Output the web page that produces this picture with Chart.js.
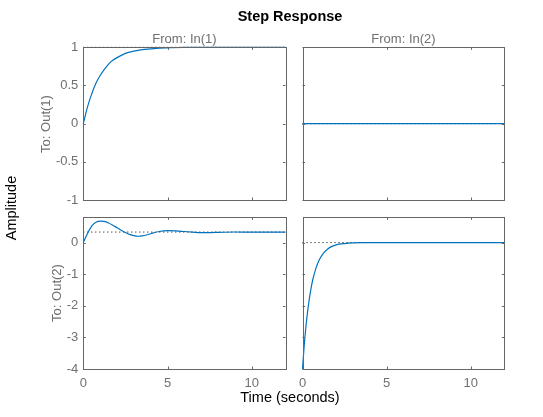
<!DOCTYPE html>
<html>
<head>
<meta charset="utf-8">
<script src="https://cdn.jsdelivr.net/npm/chart.js@4"></script>
<style>
  html, body { margin: 0; padding: 0; background: #fff; }
  #fig { position: relative; width: 543px; height: 417px; overflow: hidden; font-family: 'Liberation Sans', Arial, sans-serif; }
  #fig canvas { position: absolute; left: 0; top: 0; }
  .lbl { position: absolute; white-space: nowrap; transform: translate(-50%, -50%); line-height: 1; }
  .rot { transform: translate(-50%, -50%) rotate(-90deg); }
  .gray { color: #707070; font-size: 13px; }
  .big { color: #000; font-size: 14.5px; }
</style>
</head>
<body>
<div id="fig">
  <canvas id="c11" width="543" height="417"></canvas>
  <canvas id="c12" width="543" height="417"></canvas>
  <canvas id="c21" width="543" height="417"></canvas>
  <canvas id="c22" width="543" height="417"></canvas>
  <div class="lbl big" style="left:290px; top:15.5px; font-weight:bold;">Step Response</div>
  <div class="lbl gray" style="left:184.5px; top:37.5px;">From: In(1)</div>
  <div class="lbl gray" style="left:403.5px; top:37.5px;">From: In(2)</div>
  <div class="lbl gray rot" style="left:44.5px; top:123.6px;">To: Out(1)</div>
  <div class="lbl gray rot" style="left:56px; top:293px;">To: Out(2)</div>
  <div class="lbl big rot" style="left:11px; top:208px;">Amplitude</div>
  <div class="lbl big" style="left:290px; top:396.5px;">Time (seconds)</div>
</div>
<script>
// step response samples
var t11 = [0, 0.25, 0.5, 0.75, 1, 1.25, 1.5, 1.75, 2, 2.5, 3, 3.5, 4, 4.5, 5, 6, 7, 8, 10, 12];
var y11 = [0, 0.22, 0.39, 0.53, 0.63, 0.71, 0.78, 0.83, 0.865, 0.92, 0.95, 0.97, 0.98, 0.99, 0.993, 0.998, 1, 1, 1, 1];

var t12 = [0, 12];
var y12 = [0, 0];

var t21 = [0, 0.25, 0.5, 0.75, 1, 1.25, 1.5, 1.75, 2, 2.25, 2.5, 2.75, 3, 3.25, 3.5, 3.75, 4, 4.5, 5, 5.5, 6, 6.5, 7, 7.5, 8, 9, 10, 12];
var y21 = [0, 0.29, 0.52, 0.64, 0.68, 0.67, 0.62, 0.55, 0.47, 0.39, 0.32, 0.26, 0.22, 0.2, 0.21, 0.24, 0.28, 0.35, 0.38, 0.37, 0.35, 0.33, 0.315, 0.315, 0.325, 0.335, 0.333, 0.333];

var t22 = [0, 0.1, 0.2, 0.3, 0.4, 0.5, 0.6, 0.8, 1, 1.25, 1.5, 1.75, 2, 2.5, 3, 3.5, 4, 5, 6, 8, 12];
var y22 = [-4, -3.27, -2.68, -2.2, -1.8, -1.47, -1.2, -0.81, -0.54, -0.33, -0.2, -0.12, -0.07, -0.03, -0.01, 0, 0, 0, 0, 0, 0];

// steady-state values (dotted lines)
var final11 = 1, final12 = 0, final21 = 0.333, final22 = 0;

var xTicks = [0, 5, 10];
var yTicksTop = [-1, -0.5, 0, 0.5, 1];
var yTicksBottom = [-4, -3, -2, -1, 0];

var lineBlue = '#0072BD';
var axisColor = '#666666';
var labelColor = '#707070';

// box and inward tick marks like MATLAB axes
var boxPlugin = {
    id: 'matlabBox',
    afterDatasetsDraw: function(chart) {
        var ctx = chart.ctx, a = chart.chartArea;
        var x = chart.scales.x, y = chart.scales.y;
        var len = 2.5;
        ctx.save();
        ctx.strokeStyle = axisColor;
        ctx.lineWidth = 1;
        ctx.beginPath();
        x.ticks.forEach(function(tk) {
            var px = Math.round(x.getPixelForValue(tk.value)) + 0.5;
            ctx.moveTo(px, a.bottom); ctx.lineTo(px, a.bottom - len);
            ctx.moveTo(px, a.top); ctx.lineTo(px, a.top + len);
        });
        y.ticks.forEach(function(tk) {
            var py = Math.round(y.getPixelForValue(tk.value)) + 0.5;
            ctx.moveTo(a.left, py); ctx.lineTo(a.left + len, py);
            ctx.moveTo(a.right, py); ctx.lineTo(a.right - len, py);
        });
        ctx.stroke();
        ctx.strokeRect(Math.round(a.left) + 0.5, Math.round(a.top) + 0.5,
            Math.round(a.right) - Math.round(a.left), Math.round(a.bottom) - Math.round(a.top));
        ctx.restore();
    }
};

function toPoints(xs, ys) {
    return xs.map(function(v, i) { return {x: v, y: ys[i]}; });
}

function makePanel(id, xs, ys, finalVal, box, opts) {
    var yWidth = 50, xHeight = 30;
    new Chart(document.getElementById(id), {
        type: 'line',
        data: {
            datasets: [{
                data: toPoints(xs, ys),
                borderColor: lineBlue,
                borderWidth: 1.2,
                pointRadius: 0,
                cubicInterpolationMode: 'monotone',
                clip: 2,
                fill: false
            }, {
                data: toPoints([0, 12], [finalVal, finalVal]),
                borderColor: '#000',
                borderWidth: 1,
                borderDash: [1, 3],
                pointRadius: 0,
                clip: 2,
                fill: false
            }]
        },
        options: {
            responsive: false,
            animation: false,
            devicePixelRatio: 1,
            layout: {
                padding: {
                    left: box.left - yWidth,
                    top: box.top,
                    right: 543 - box.right,
                    bottom: 417 - box.bottom - xHeight
                }
            },
            plugins: { legend: { display: false }, tooltip: { enabled: false } },
            scales: {
                x: {
                    type: 'linear',
                    min: 0,
                    max: 12,
                    grid: { display: false, drawTicks: false },
                    border: { display: false },
                    afterBuildTicks: function(s) { s.ticks = xTicks.map(function(v) { return {value: v}; }); },
                    afterFit: function(s) { s.height = xHeight; },
                    ticks: {
                        display: opts.xLabels,
                        padding: 7,
                        color: labelColor,
                        font: { family: "'Liberation Sans', Arial, sans-serif", size: 13 },
                        maxRotation: 0,
                        callback: function(v) { return String(v); }
                    }
                },
                y: {
                    type: 'linear',
                    min: opts.yMin,
                    max: opts.yMax,
                    grid: { display: false, drawTicks: false },
                    border: { display: false },
                    afterBuildTicks: function(s) { s.ticks = opts.yTicks.map(function(v) { return {value: v}; }); },
                    afterFit: function(s) { s.width = yWidth; },
                    ticks: {
                        display: opts.yLabels,
                        padding: 5,
                        color: labelColor,
                        font: { family: "'Liberation Sans', Arial, sans-serif", size: 13 },
                        callback: function(v) { return String(v); }
                    }
                }
            }
        },
        plugins: [boxPlugin]
    });
}

var colL = {left: 83.3, right: 285.5}, colR = {left: 302.5, right: 504.3};
var rowT = {top: 47.3, bottom: 200}, rowB = {top: 217.3, bottom: 369};

function cell(c, r) { return {left: c.left, right: c.right, top: r.top, bottom: r.bottom}; }

makePanel('c11', t11, y11, final11, cell(colL, rowT),
    {yMin: -1, yMax: 1, yTicks: yTicksTop, xLabels: false, yLabels: true});
makePanel('c12', t12, y12, final12, cell(colR, rowT),
    {yMin: -1, yMax: 1, yTicks: yTicksTop, xLabels: false, yLabels: false});
makePanel('c21', t21, y21, final21, cell(colL, rowB),
    {yMin: -4, yMax: 0.8, yTicks: yTicksBottom, xLabels: true, yLabels: true});
makePanel('c22', t22, y22, final22, cell(colR, rowB),
    {yMin: -4, yMax: 0.8, yTicks: yTicksBottom, xLabels: true, yLabels: false});
</script>
</body>
</html>
